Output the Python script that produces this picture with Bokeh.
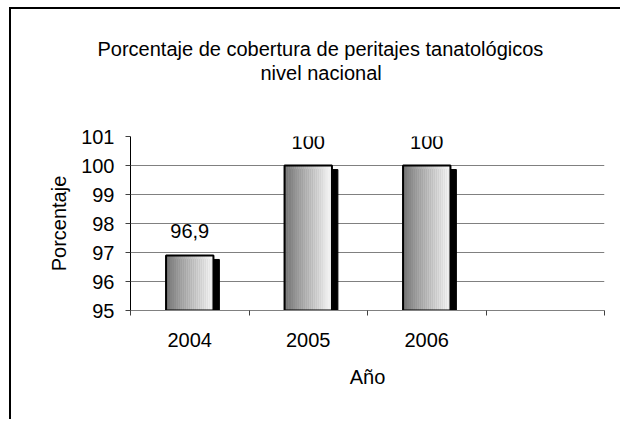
from bokeh.plotting import figure
from bokeh.models import (FixedTicker, Range1d, Title, ColumnDataSource)
from bokeh.transform import dodge
from bokeh.core.properties import value
from bokeh.embed import file_html
from bokeh.resources import INLINE

# ---- data ----
years = ["2004", "2005", "2006"]
coverage = [96.9, 100, 100]
n_slots = 4  # Excel-style empty slot on the right
y_ticks = [95, 96, 97, 98, 99, 100, 101]
title_lines = ["Porcentaje de cobertura de peritajes tanatológicos", "nivel nacional"]
x_title = "Año"
y_title = "Porcentaje"

FONT = "Liberation Sans"
W, H = 611, 412
ML, MR, MT, MB = 119, 18, 127, 111

xs = [i + 0.5 for i in range(len(years))]
labels = [("%g" % v).replace(".", ",") for v in coverage]
src = ColumnDataSource(dict(x=xs, top=coverage, lab=labels))

p = figure(width=W, height=H, output_backend="svg", toolbar_location=None,
           x_range=Range1d(0, n_slots), y_range=Range1d(y_ticks[0], y_ticks[-1]),
           min_border_left=ML, min_border_right=MR, min_border_top=MT,
           min_border_bottom=MB)
p.styles = {"border-top": "2px solid black", "border-left": "2px solid black",
            "margin-left": "9px", "margin-top": "7px"}
p.outline_line_color = None
p.background_fill_color = "white"
p.border_fill_color = "white"

bar_w = 0.4
base = y_ticks[0]
# shadow
p.vbar(x=dodge("x", 0.05, range=p.x_range), top=dodge("top", -0.14, range=p.y_range),
       bottom=base, width=bar_w, source=src, fill_color="black", line_color="black")
# gradient strips
N = 24
c0, c1 = 0x70, 0xf6
for i in range(N):
    t = i / (N - 1)
    g = int(round(c0 + (c1 - c0) * (t ** 0.8)))
    col = "#%02x%02x%02x" % (g, g, g)
    off = -bar_w / 2 + (i + 0.5) * bar_w / N
    p.vbar(x=dodge("x", off, range=p.x_range), top="top", bottom=base,
           width=bar_w / N, source=src, fill_color=col, line_color=col, line_width=0.6)
# outline
p.vbar(x="x", top="top", bottom=base, width=bar_w, source=src,
       fill_color=None, line_color="black", line_width=2)

# value labels
p.text(x="x", y="top", text="lab", source=src, text_align="center",
       text_baseline="alphabetic", y_offset=-24, text_font=value(FONT),
       text_font_size="20px", text_color="black")

# axes
xa = p.xaxis[0]
xa.ticker = FixedTicker(ticks=xs, minor_ticks=list(range(n_slots + 1)))
xa.major_label_overrides = {x: y for x, y in zip(xs, years)}
xa.major_tick_out = 0
xa.major_tick_in = 0
xa.minor_tick_out = 5
xa.minor_tick_in = 0
xa.minor_tick_line_color = "#404040"
xa.axis_line_color = "#808080"
xa.major_label_standoff = 17
xa.axis_label = x_title
xa.axis_label_standoff = 16

ya = p.yaxis[0]
ya.ticker = FixedTicker(ticks=y_ticks)
ya.major_tick_out = 5
ya.major_tick_in = 0
ya.minor_tick_line_color = None
ya.axis_line_color = "black"
ya.major_tick_line_color = "#404040"
ya.major_label_standoff = 11
ya.axis_label = y_title
ya.axis_label_standoff = 8

for ax in (xa, ya):
    ax.major_label_text_font = FONT
    ax.major_label_text_font_size = "20px"
    ax.major_label_text_color = "black"
    ax.axis_label_text_font = FONT
    ax.axis_label_text_font_size = "20px"
    ax.axis_label_text_font_style = "normal"
    ax.axis_label_text_color = "black"

p.xgrid.grid_line_color = None
p.ygrid.ticker = FixedTicker(ticks=y_ticks)
p.ygrid.grid_line_color = "#808080"
p.ygrid.grid_line_width = 1

# spacer between the frame and the title block
p.add_layout(Title(text=" ", standoff=29, text_font=FONT, text_font_size="20px"), "above")
# title lines: left-aligned titles shifted so each is centred on the chart box
offsets = [-33, 130]
for line, off in reversed(list(zip(title_lines, offsets))):
    p.add_layout(Title(text=line, align="left", offset=off, standoff=0,
                       text_font=FONT, text_font_size="20px",
                       text_font_style="normal", text_color="black"), "above")

open("out.html", "w").write(file_html(p, INLINE))
